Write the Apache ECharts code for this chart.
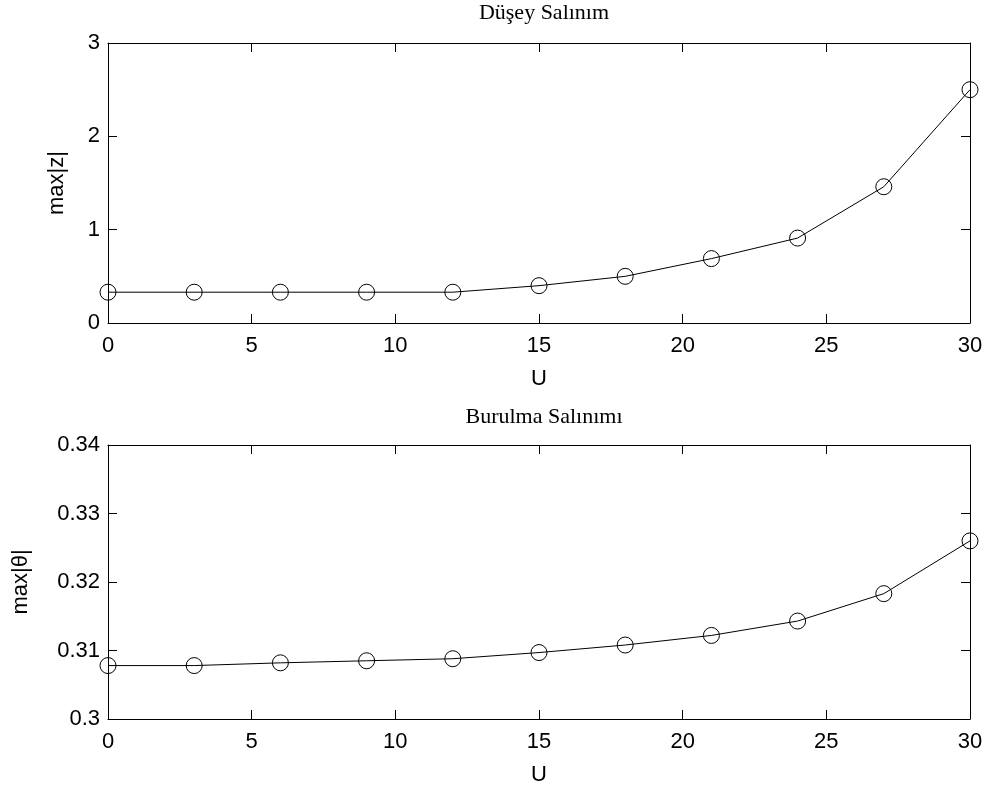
<!DOCTYPE html>
<html>
<head>
<meta charset="utf-8">
<script src="https://cdn.jsdelivr.net/npm/echarts@6/dist/echarts.min.js"></script>
<style>html,body{margin:0;padding:0;background:#fff}#c{width:992px;height:796px}</style>
</head>
<body>
<div id="c"></div>
<script>
const U = [0, 3, 6, 9, 12, 15, 18, 21, 24, 27, 30];
const maxZ = [0.33, 0.33, 0.33, 0.33, 0.33, 0.40, 0.50, 0.69, 0.91, 1.46, 2.50];
const maxTheta = [0.3078, 0.3078, 0.3082, 0.3085, 0.3088, 0.3097, 0.3108, 0.3122, 0.3143, 0.3183, 0.3260];
const topTitle = 'Düşey Salınım';
const bottomTitle = 'Burulma Salınımı';
const xName = 'U';
const topYName = 'max|z|';
const bottomYName = 'max|θ|';

const SANS = 'Liberation Sans, Arial, Helvetica, sans-serif';
const SERIF = 'Liberation Serif, Times New Roman, serif';
const FS = 22;
const black = '#000';

function xAx(gi, main) {
  return {
    type: 'value', gridIndex: gi, min: 0, max: 30, interval: 5,
    position: main ? 'bottom' : 'top',
    name: main ? xName : '', nameLocation: 'middle', nameGap: 45,
    nameTextStyle: {color: black, fontSize: FS, fontFamily: SANS},
    axisLine: {show: true, onZero: false, lineStyle: {color: black, width: 1}},
    axisTick: {show: true, inside: true, length: 9, lineStyle: {color: black}},
    axisLabel: {show: main, color: black, fontSize: FS, fontFamily: SANS, margin: 12},
    splitLine: {show: false}
  };
}
function yAx(gi, main, min, max, interval, name, gap) {
  return {
    type: 'value', gridIndex: gi, min: min, max: max, interval: interval,
    position: main ? 'left' : 'right',
    name: main ? name : '', nameLocation: 'middle', nameGap: gap, nameRotate: 90,
    nameTextStyle: {color: black, fontSize: FS, fontFamily: SANS},
    axisLine: {show: true, onZero: false, lineStyle: {color: black, width: 1}},
    axisTick: {show: true, inside: true, length: 9, lineStyle: {color: black}},
    axisLabel: {show: main, color: black, fontSize: FS, fontFamily: SANS, margin: 8},
    splitLine: {show: false}
  };
}
function ser(xi, yi, ys) {
  return {
    type: 'line', xAxisIndex: xi, yAxisIndex: yi,
    data: U.map((u, i) => [u, ys[i]]),
    symbol: 'circle', symbolSize: 16,
    itemStyle: {color: 'rgba(0,0,0,0)', borderColor: black, borderWidth: 1},
    lineStyle: {color: black, width: 1},
    animation: false, silent: true
  };
}

const chart = echarts.init(document.getElementById('c'), null, {renderer: 'canvas'});
chart.setOption({
  backgroundColor: '#fff',
  animation: false,
  title: [
    {text: topTitle, left: 539, top: -3, textAlign: 'center',
     textStyle: {fontFamily: SERIF, fontSize: 22, fontWeight: 'normal', color: black}},
    {text: bottomTitle, left: 539, top: 401, textAlign: 'center',
     textStyle: {fontFamily: SERIF, fontSize: 22, fontWeight: 'normal', color: black}}
  ],
  grid: [
    {left: 108, right: 22, top: 43, height: 280},
    {left: 108, right: 22, top: 445, height: 274}
  ],
  xAxis: [xAx(0, true), xAx(0, false), xAx(1, true), xAx(1, false)],
  yAxis: [
    yAx(0, true, 0, 3, 1, topYName, 40),
    yAx(0, false, 0, 3, 1, '', 0),
    yAx(1, true, 0.3, 0.34, 0.01, bottomYName, 76),
    yAx(1, false, 0.3, 0.34, 0.01, '', 0)
  ],
  series: [ser(0, 0, maxZ), ser(2, 2, maxTheta)]
});
</script>
</body>
</html>
